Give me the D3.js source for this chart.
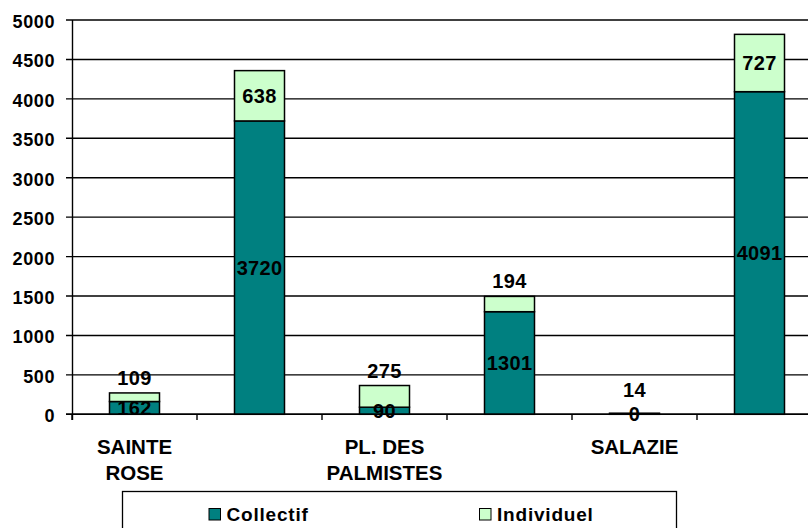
<!DOCTYPE html>
<html>
<head>
<meta charset="utf-8">
<script src="https://cdn.jsdelivr.net/npm/d3@7"></script>
<style>
  html, body { margin: 0; padding: 0; background: #fff; }
  svg { display: block; }
  text { font-family: Arial, "Liberation Sans", sans-serif; font-weight: bold; fill: #000; }
</style>
</head>
<body>
<div id="chart"></div>
<script>
// ---- Data ----
const categoryIds = ["c1", "c2", "c3", "c4", "c5", "c6"];
const categoryLabels = [["SAINTE", "ROSE"], [], ["PL. DES", "PALMISTES"], [], ["SALAZIE"], []];
const seriesNames = ["Collectif", "Individuel"];
const collectif = [162, 3720, 90, 1301, 0, 4091];
const individuel = [109, 638, 275, 194, 14, 727];
const yTicks = [0, 500, 1000, 1500, 2000, 2500, 3000, 3500, 4000, 4500, 5000];

const colors = { Collectif: "#008080", Individuel: "#CCFFCC" };

const W = 808, H = 528;
const svg = d3.select("#chart").append("svg").attr("width", W).attr("height", H);

const x = d3.scaleBand().domain(categoryIds).range([72, 822]).paddingInner(0.6).paddingOuter(0.3);
const y = d3.scaleLinear().domain([0, 5000]).range([414.3, 20]);

// gridlines
svg.append("g").selectAll("line").data(yTicks).join("line")
  .attr("x1", 66).attr("x2", 822)
  .attr("y1", d => y(d)).attr("y2", d => y(d))
  .attr("stroke", "#000").attr("stroke-width", 1.4);

// y tick labels
svg.append("g").selectAll("text").data(yTicks).join("text")
  .attr("x", 55).attr("y", d => y(d) + 8)
  .attr("text-anchor", "end")
  .style("font-size", "18px").style("letter-spacing", "0.6px")
  .text(d => d);

// y axis line
svg.append("line").attr("x1", 72.5).attr("x2", 72.5).attr("y1", y(5000)).attr("y2", 420)
  .attr("stroke", "#000").attr("stroke-width", 1.4);

// x axis ticks at band boundaries
const step = x.step();
const boundaries = d3.range(categoryIds.length + 1).map(i => x.range()[0] + i * step);
svg.append("g").selectAll("line").data(boundaries).join("line")
  .attr("x1", d => d).attr("x2", d => d).attr("y1", y(0)).attr("y2", 420)
  .attr("stroke", "#000").attr("stroke-width", 1.4);

// stacked data
const rows = categoryIds.map((id, i) => ({ id, Collectif: collectif[i], Individuel: individuel[i] }));
const stack = d3.stack().keys(seriesNames)(rows);

const bars = svg.append("g");
stack.forEach(layer => {
  bars.append("g").selectAll("rect").data(layer).join("rect")
    .attr("x", d => x(d.data.id))
    .attr("width", x.bandwidth())
    .attr("y", d => y(d[1]))
    .attr("height", d => Math.max(0, y(d[0]) - y(d[1])))
    .attr("fill", colors[layer.key])
    .attr("stroke", "#000").attr("stroke-width", 1.5);
});

// x-axis line
svg.append("line").attr("x1", 66).attr("x2", 822).attr("y1", y(0)).attr("y2", y(0))
  .attr("stroke", "#000").attr("stroke-width", 1.4);

// data labels
const labels = svg.append("g");
const collectifLayer = stack[0];
stack.forEach(layer => {
  layer.forEach((d, i) => {
    const val = d.data[layer.key];
    const cx = x(d.data.id) + x.bandwidth() / 2;
    const top = y(d[1]), bottom = y(d[0]);
    let cy = (top + bottom) / 2;
    if (layer.key === "Individuel" && bottom - top < 24) {
      const c = collectifLayer[i];
      const collCy = (y(c[0]) + y(c[1])) / 2;
      cy = Math.min(top - 15, collCy - 24);
    }
    labels.append("text")
      .attr("x", cx).attr("y", cy + 7)
      .attr("text-anchor", "middle")
      .style("font-size", "20px").style("letter-spacing", "0.3px")
      .text(val);
  });
});

// category labels
const cat = svg.append("g");
categoryIds.forEach((id, i) => {
  const cx = x(id) + x.bandwidth() / 2;
  categoryLabels[i].forEach((line, j) => {
    cat.append("text").attr("x", cx).attr("y", 453.5 + j * 26.7)
      .attr("text-anchor", "middle").style("font-size", "20.5px")
      .text(line);
  });
});

// legend
const lg = svg.append("g");
lg.append("rect").attr("x", 122.5).attr("y", 491.5).attr("width", 554).attr("height", 60)
  .attr("fill", "#fff").attr("stroke", "#000").attr("stroke-width", 1.3);
const legendX = [209, 479.5];
seriesNames.forEach((name, i) => {
  lg.append("rect").attr("x", legendX[i]).attr("y", 508.5).attr("width", 11.5).attr("height", 11.5)
    .attr("fill", colors[name]).attr("stroke", "#000").attr("stroke-width", 1);
  lg.append("text").attr("x", legendX[i] + 17.5).attr("y", 520.5)
    .style("font-size", "19px").style("letter-spacing", "0.8px")
    .text(name);
});
</script>
</body>
</html>
